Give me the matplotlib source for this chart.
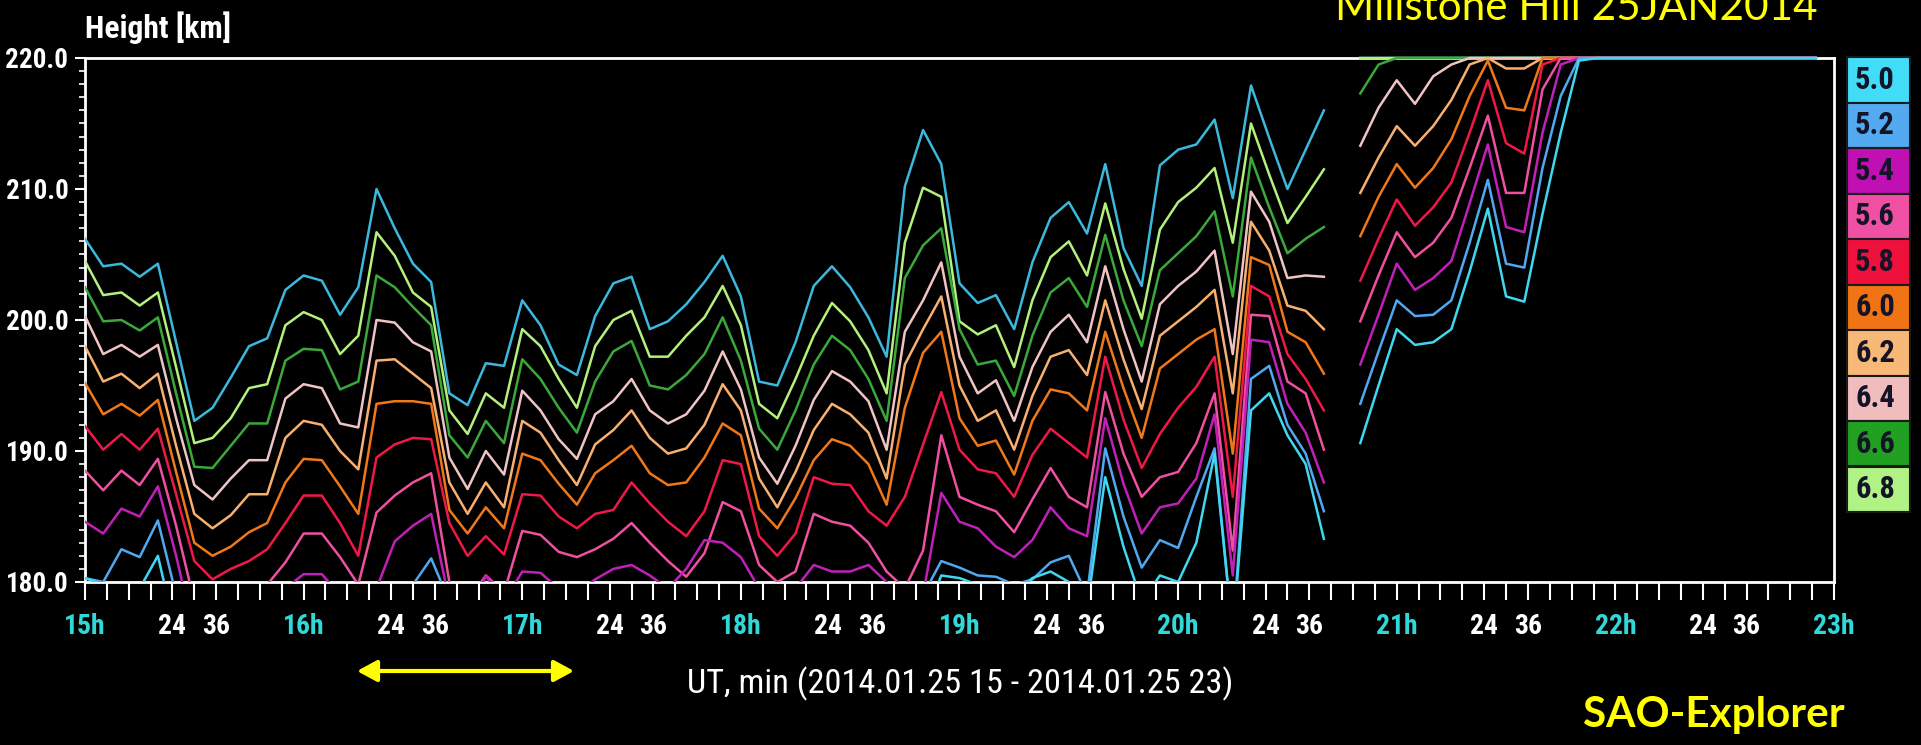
import numpy as np
import matplotlib
matplotlib.use("Agg")
import matplotlib.pyplot as plt
from matplotlib.patches import Rectangle, FancyArrowPatch
from matplotlib import font_manager as fm
from matplotlib.transforms import Bbox, TransformedBbox

nan = np.nan

# ---------------- data (heights in km, 5-minute cadence from 15:00 UT) ----------------
start_hour = 15.0
step_minutes = 5.0

h70_left = [206.2, 204.1, 204.3, 203.3, 204.3, 198.3, 192.3, 193.3, 195.6, 198.0,
            198.6, 202.3, 203.4, 203.0, 200.4, 202.5, 210.0, 207.0, 204.3, 202.9,
            194.4, 193.5, 196.7, 196.5, 201.5, 199.6, 196.6, 195.8, 200.3, 202.8,
            203.3, 199.3, 199.9, 201.2, 202.9, 204.9, 201.8, 195.3, 195.0, 198.3,
            202.6, 204.1, 202.5, 200.2, 197.2, 210.2, 214.5, 211.9, 202.8, 201.3,
            201.9, 199.3, 204.4, 207.8, 209.0, 206.6, 211.9, 205.5, 202.6, 211.8,
            213.0, 213.4, 215.3, 209.3, 217.9, 213.9, 210.0, 213.0, 216.0]
h68_left = [204.5, 201.9, 202.1, 201.1, 202.1, 196.4, 190.6, 191.0, 192.5, 194.8,
            195.1, 199.6, 200.6, 200.0, 197.4, 198.8, 206.7, 204.9, 202.1, 201.0,
            193.1, 191.3, 194.4, 193.3, 199.3, 198.0, 195.5, 193.3, 198.0, 200.0,
            200.7, 197.2, 197.2, 198.8, 200.2, 202.6, 199.6, 193.6, 192.5, 195.5,
            198.8, 201.3, 199.9, 197.7, 194.4, 205.9, 210.1, 209.4, 199.9, 198.9,
            199.6, 196.4, 201.5, 204.8, 206.0, 203.4, 208.9, 203.9, 200.1, 206.9,
            209.0, 210.1, 211.6, 205.9, 215.0, 211.1, 207.4, 209.4, 211.5]
h66_left = [202.5, 199.9, 200.0, 199.2, 200.2, 194.4, 188.8, 188.7, 190.4, 192.1,
            192.1, 196.9, 197.8, 197.7, 194.7, 195.3, 203.4, 202.5, 201.0, 199.6,
            191.2, 189.5, 192.3, 190.6, 197.0, 195.5, 193.3, 191.4, 195.3, 197.6,
            198.4, 195.0, 194.7, 195.8, 197.4, 200.2, 196.9, 191.7, 190.1, 193.1,
            196.6, 198.8, 197.7, 195.5, 192.3, 203.2, 205.7, 207.0, 199.3, 196.6,
            196.9, 194.2, 198.8, 202.1, 203.2, 201.0, 206.5, 201.5, 198.0, 203.8,
            205.1, 206.4, 208.3, 201.8, 212.4, 208.6, 205.1, 206.2, 207.1]
h64_left = [200.3, 197.4, 198.1, 197.2, 198.1, 192.5, 187.4, 186.3, 187.9, 189.3,
            189.3, 194.0, 195.1, 194.8, 192.1, 191.8, 200.0, 199.8, 198.3, 197.6,
            189.5, 187.1, 190.0, 188.2, 194.6, 193.1, 190.9, 189.4, 192.8, 193.8,
            195.5, 193.1, 192.1, 192.8, 194.6, 197.6, 194.7, 189.5, 187.5, 190.4,
            193.9, 196.1, 195.3, 193.8, 190.1, 199.1, 201.5, 204.4, 197.2, 194.4,
            195.4, 192.3, 196.4, 199.1, 200.4, 198.3, 204.1, 199.3, 195.3, 201.2,
            202.6, 203.7, 205.3, 197.4, 209.8, 207.5, 203.2, 203.4, 203.3]
h62_left = [198.0, 195.3, 195.9, 194.8, 195.9, 190.4, 185.2, 184.1, 185.1, 186.7,
            186.7, 191.0, 192.3, 192.0, 190.0, 188.6, 196.9, 197.0, 195.9, 194.8,
            187.6, 185.2, 187.6, 185.7, 192.3, 191.4, 189.3, 187.4, 190.5, 191.6,
            193.1, 191.0, 189.8, 190.2, 192.0, 195.1, 193.1, 187.9, 185.7, 188.4,
            191.6, 193.6, 192.8, 191.4, 187.9, 196.6, 199.3, 201.8, 195.0, 192.3,
            193.1, 190.1, 194.2, 197.2, 197.7, 195.8, 201.5, 197.0, 193.2, 198.8,
            199.9, 201.0, 202.3, 194.4, 207.5, 205.3, 201.1, 200.7, 199.3]
h60_left = [195.2, 192.8, 193.6, 192.7, 193.9, 188.4, 183.0, 182.0, 182.7, 183.8,
            184.5, 187.6, 189.4, 189.3, 187.3, 185.2, 193.6, 193.8, 193.8, 193.6,
            185.5, 183.7, 185.7, 184.1, 189.8, 189.3, 187.5, 185.9, 188.3, 189.3,
            190.4, 188.3, 187.4, 187.6, 189.5, 192.1, 191.2, 185.6, 184.1, 186.4,
            189.3, 190.9, 190.4, 189.0, 185.9, 193.3, 197.5, 199.1, 192.5, 190.4,
            190.8, 188.2, 192.3, 194.7, 194.4, 193.1, 199.1, 194.8, 191.0, 196.3,
            197.4, 198.5, 199.3, 189.8, 204.8, 204.2, 199.1, 198.3, 195.9]
h58_left = [191.9, 190.1, 191.3, 190.1, 191.7, 186.7, 181.6, 180.2, 181.0, 181.6,
            182.5, 184.5, 186.6, 186.6, 184.5, 182.0, 189.5, 190.5, 191.0, 190.9,
            184.5, 182.0, 183.5, 182.1, 186.7, 186.6, 185.0, 184.1, 185.2, 185.5,
            187.6, 186.0, 184.6, 183.5, 185.4, 189.3, 189.0, 183.5, 182.0, 183.7,
            188.0, 187.5, 187.4, 185.4, 184.3, 186.5, 190.5, 194.5, 190.1, 188.6,
            188.3, 186.5, 189.7, 191.7, 190.6, 189.5, 197.2, 192.4, 188.7, 191.3,
            193.3, 194.9, 197.2, 186.5, 202.6, 201.8, 197.4, 195.5, 193.1]
h56_left = [188.5, 187.0, 188.5, 187.4, 189.4, 184.3, 178.5, 176.0, 176.5, 178.0,
            179.8, 181.5, 183.7, 183.7, 181.9, 179.8, 185.3, 186.6, 187.6, 188.3,
            180.0, 178.5, 180.5, 179.2, 183.9, 183.6, 182.3, 181.9, 182.5, 183.3,
            184.5, 183.0, 181.6, 180.4, 182.2, 186.1, 185.4, 181.3, 180.0, 180.8,
            185.2, 184.6, 184.3, 183.0, 180.8, 179.5, 182.4, 191.2, 186.5, 185.9,
            185.4, 183.8, 186.3, 188.7, 186.5, 185.7, 194.5, 189.8, 186.5, 188.0,
            188.4, 190.6, 194.4, 182.4, 200.4, 200.3, 195.3, 194.4, 190.1]
h54_left = [184.6, 183.7, 185.6, 185.0, 187.3, 182.0, 176.0, 174.0, 174.0, 175.0,
            177.0, 179.5, 180.6, 180.6, 179.0, 176.0, 179.5, 183.1, 184.3, 185.2,
            178.5, 177.0, 180.5, 178.5, 180.8, 180.7, 179.5, 179.2, 180.2, 181.0,
            181.3, 180.5, 179.5, 181.0, 183.2, 183.0, 181.9, 179.5, 178.5, 179.5,
            181.3, 180.8, 180.8, 181.3, 180.0, 178.0, 179.0, 186.8, 184.6, 184.1,
            182.7, 181.9, 183.2, 185.7, 184.1, 183.5, 192.5, 187.5, 183.7, 185.7,
            186.0, 187.9, 192.8, 180.5, 198.5, 198.3, 193.6, 191.4, 187.6]
h52_left = [180.3, 180.0, 182.5, 181.9, 184.7, 179.0, 174.0, 172.0, 172.0, 173.0,
            174.0, 175.0, 176.0, 176.0, 175.0, 174.0, 175.0, 178.0, 179.8, 181.8,
            178.5, 176.0, 177.0, 176.0, 177.0, 177.0, 176.0, 175.0, 176.0, 177.0,
            177.5, 177.0, 176.0, 177.0, 178.0, 178.0, 177.5, 176.0, 175.0, 176.0,
            177.0, 177.0, 177.0, 177.0, 176.0, 177.5, 179.0, 181.6, 181.1, 180.5,
            180.4, 179.8, 180.2, 181.5, 182.0, 179.0, 190.2, 185.0, 181.1, 183.2,
            182.6, 186.5, 190.2, 176.0, 195.5, 196.5, 192.0, 189.8, 185.4]
h50_left = [180.3, 179.8, 178.0, 179.5, 182.0, 176.0, 172.0, 170.0, 170.0, 171.0,
            172.0, 173.0, 174.0, 174.0, 173.0, 172.0, 173.0, 175.0, 177.0, 178.0,
            176.0, 174.0, 175.0, 174.0, 175.0, 175.0, 174.0, 173.0, 174.0, 175.0,
            175.0, 175.0, 174.0, 175.0, 176.0, 176.0, 175.0, 174.0, 173.0, 174.0,
            175.0, 175.0, 175.0, 175.0, 174.0, 175.0, 177.0, 180.5, 180.3, 179.8,
            179.5, 179.0, 180.3, 180.8, 180.0, 178.0, 188.0, 182.7, 178.5, 180.5,
            180.0, 183.0, 189.8, 176.0, 193.1, 194.4, 191.2, 189.0, 183.3]

# after the data gap (20:50 onwards); 220 = clipped at the top of the scale
h70_right = [220.0] * 26
h68_right = [220.0] * 26
h66_right = [217.3, 219.5] + [220.0] * 24
h64_right = [213.3, 216.2, 218.3, 216.5, 218.6, 219.5] + [220.0] * 20
h62_right = [209.7, 212.4, 214.8, 213.3, 214.8, 216.8, 219.5, 220.0, 219.2, 219.2] + [220.0] * 16
h60_right = [206.4, 209.4, 211.9, 210.1, 211.6, 213.8, 217.1, 219.8, 216.2, 216.0] + [220.0] * 16
h58_right = [203.0, 206.2, 209.2, 207.2, 208.6, 210.5, 214.3, 218.3, 213.5, 212.7, 219.5] + [220.0] * 15
h56_right = [199.9, 203.4, 206.7, 204.8, 205.9, 207.8, 211.6, 215.6, 209.7, 209.7, 217.6] + [220.0] * 15
h54_right = [196.6, 200.4, 204.3, 202.3, 203.2, 204.5, 208.9, 213.4, 207.1, 206.7, 214.3, 219.5] + [220.0] * 14
h52_right = [193.6, 197.6, 201.5, 200.3, 200.4, 201.5, 205.9, 210.7, 204.3, 204.0, 211.6, 217.1] + [220.0] * 14
h50_right = [190.6, 195.0, 199.3, 198.1, 198.3, 199.3, 203.7, 208.5, 201.8, 201.4, 208.1, 214.3, 219.8] + [220.0] * 13

freq_labels = ["7.0", "6.8", "6.6", "6.4", "6.2", "6.0", "5.8", "5.6", "5.4", "5.2", "5.0"]
line_colors = ["#3cb8dc", "#b4f07c", "#3aa83a", "#f0c4c4", "#f8b070", "#f07818",
               "#f01848", "#f050a0", "#c020b8", "#50a8f0", "#40d8f0"]
series = [h70_left + [nan] + h70_right, h68_left + [nan] + h68_right,
          h66_left + [nan] + h66_right, h64_left + [nan] + h64_right,
          h62_left + [nan] + h62_right, h60_left + [nan] + h60_right,
          h58_left + [nan] + h58_right, h56_left + [nan] + h56_right,
          h54_left + [nan] + h54_right, h52_left + [nan] + h52_right,
          h50_left + [nan] + h50_right]

legend_labels = ["5.0", "5.2", "5.4", "5.6", "5.8", "6.0", "6.2", "6.4", "6.6", "6.8"]
legend_colors = ["#40dcf8", "#54aaf0", "#c010b4", "#f050a4", "#f0103c", "#f07414",
                 "#f8b878", "#f0bcbc", "#22a022", "#b0f284"]

ytick_values = [180, 190, 200, 210, 220]
ytick_labels = ["180.0", "190.0", "200.0", "210.0", "220.0"]


# ---------------- fonts: look for a narrow / condensed face ----------------
def _weight(f):
    w = f.weight
    if isinstance(w, str):
        return fm.weight_dict.get(w, 400)
    return w


def _is_condensed(f):
    nm = f.name.lower()
    if "narrow" in nm or "condensed" in nm:
        return True
    st = f.stretch
    if isinstance(st, str):
        return "condensed" in st
    return st < 500


def pick_condensed(bold):
    prefs = ["liberation sans narrow", "arimo narrow", "roboto condensed", "open sans condensed",
             "noto sans", "dejavu sans", "open sans", "roboto"]
    cands = [f for f in fm.fontManager.ttflist
             if _is_condensed(f) and f.style == "normal" and f.fname.lower().endswith((".ttf", ".otf"))]
    best, best_key = None, None
    for f in cands:
        nm = f.name.lower()
        pi = next((i for i, p in enumerate(prefs) if nm.startswith(p)), len(prefs))
        wt = _weight(f)
        target = 700 if bold else 400
        key = (pi, abs(wt - target))
        if best_key is None or key < best_key:
            best, best_key = f, key
    if best is None:
        return fm.FontProperties(family="Liberation Sans", weight="bold" if bold else "normal")
    return fm.FontProperties(fname=best.fname)


FP_BOLD = pick_condensed(True)
FP_REG = pick_condensed(False)
names = {f.name for f in fm.fontManager.ttflist}
TITLEF = "Lato" if "Lato" in names else "DejaVu Sans"


def fp(base, size):
    p = base.copy()
    p.set_size(size)
    return p


W, H = 1921, 745
fig = plt.figure(figsize=(W / 100, H / 100), dpi=100, facecolor="black")
renderer = fig.canvas.get_renderer()


def text_width(s, prop):
    t = fig.text(0, 0, s, fontproperties=prop)
    w = t.get_window_extent(renderer).width
    t.remove()
    return w


def size_for(s, base, width_px):
    return 20.0 * width_px / text_width(s, fp(base, 20.0))


x0, x1, ytop, ybot = 85, 1834, 58, 582
ax = fig.add_axes([x0 / W, 1 - ybot / H, (x1 - x0) / W, (ybot - ytop) / H])
ax.set_facecolor("black")

n = len(series[0])
times = start_hour + np.arange(n) * step_minutes / 60.0

clipbox = TransformedBbox(Bbox([[0.0, 0.0], [1.0, 1.006]]), ax.transAxes)
for h, c in zip(series, line_colors):
    ln, = ax.plot(times, h, color=c, lw=1.8, zorder=3)
    ln.set_clip_box(clipbox)

ax.set_xlim(15, 23)
ax.set_ylim(180, 220)

for s in ax.spines.values():
    s.set_color("white")
    s.set_linewidth(2)
    s.set_zorder(2.5)

# x ticks every 6 minutes
xt = np.round(15 + np.arange(81) * 0.1, 3)
xlabels = []
for i in range(81):
    m = (i % 10) * 6
    if m == 0:
        xlabels.append(f"{15 + i // 10}h")
    elif m in (24, 36):
        xlabels.append(str(m))
    else:
        xlabels.append("")
ax.set_xticks(xt)
ax.set_xticklabels(xlabels)
xsize = min(size_for("24", FP_BOLD, 28), 26)
ax.tick_params(axis="x", direction="out", length=13, width=1.5, colors="white", pad=9)
for i, (tk, lab) in enumerate(zip(ax.xaxis.get_major_ticks(), ax.get_xticklabels())):
    lab.set_fontproperties(fp(FP_BOLD, xsize))
    if i % 10 == 0:
        tk.tick1line.set_color("#48c8c8")
        lab.set_color("#30d8d8")
    else:
        lab.set_color("white")

ax.set_yticks(ytick_values)
ax.set_yticklabels(ytick_labels)
ysize = min(size_for("220.0", FP_BOLD, 63), 26)
for lab in ax.get_yticklabels():
    lab.set_fontproperties(fp(FP_BOLD, ysize))
    lab.set_color("white")
ax.set_yticks(np.arange(180, 221, 1), minor=True)
ax.tick_params(axis="y", which="major", direction="out", length=7, width=1.5, colors="white", pad=5)
ax.tick_params(axis="y", which="minor", direction="out", length=4, width=1.2, colors="white")

s1 = size_for("Height [km]", FP_BOLD, 145)
fig.text(85 / W, 1 - 38 / H, "Height [km]", ha="left", va="baseline", color="white",
         fontproperties=fp(FP_BOLD, s1))
xl = "UT, min (2014.01.25 15 - 2014.01.25 23)"
s2 = size_for(xl, FP_REG, 545)
fig.text(960 / W, 1 - 693 / H, xl, ha="center", va="baseline", color="white",
         fontproperties=fp(FP_REG, s2))

t3 = fig.text(1818 / W, 1 - 20 / H, "Millstone Hill 25JAN2014", ha="right", va="baseline",
              color="#ffff00", fontfamily=TITLEF, fontsize=20)
t3.set_fontsize(20 * 483 / t3.get_window_extent(renderer).width)
t4 = fig.text(1845 / W, 1 - 727 / H, "SAO-Explorer", ha="right", va="baseline",
              color="#ffff00", fontfamily=TITLEF, fontweight="bold", fontsize=20)
t4.set_fontsize(20 * 262 / t4.get_window_extent(renderer).width)

arrow = FancyArrowPatch((357 / W, 1 - 671 / H), (574 / W, 1 - 671 / H), transform=fig.transFigure,
                        arrowstyle="<|-|>,head_length=12,head_width=6.5", mutation_scale=1,
                        lw=3, color="#ffff00", shrinkA=0, shrinkB=0)
fig.add_artist(arrow)

# legend column
bx0, bw, by0, bh = 1847, 63, 57, 45.5
lsize = min(size_for("5.0", FP_BOLD, 40), 28)
for i, (lab, col) in enumerate(zip(legend_labels, legend_colors)):
    yt = by0 + i * bh
    fig.add_artist(Rectangle((bx0 / W, 1 - (yt + bh) / H), bw / W, bh / H, transform=fig.transFigure,
                             facecolor=col, edgecolor="#1a1a1a", lw=1.5))
    fig.text((bx0 + 28) / W, 1 - (yt + bh / 2) / H, lab, ha="center", va="center",
             color="#141428", fontproperties=fp(FP_BOLD, lsize))

fig.savefig("out.png", dpi=100, facecolor="black")
